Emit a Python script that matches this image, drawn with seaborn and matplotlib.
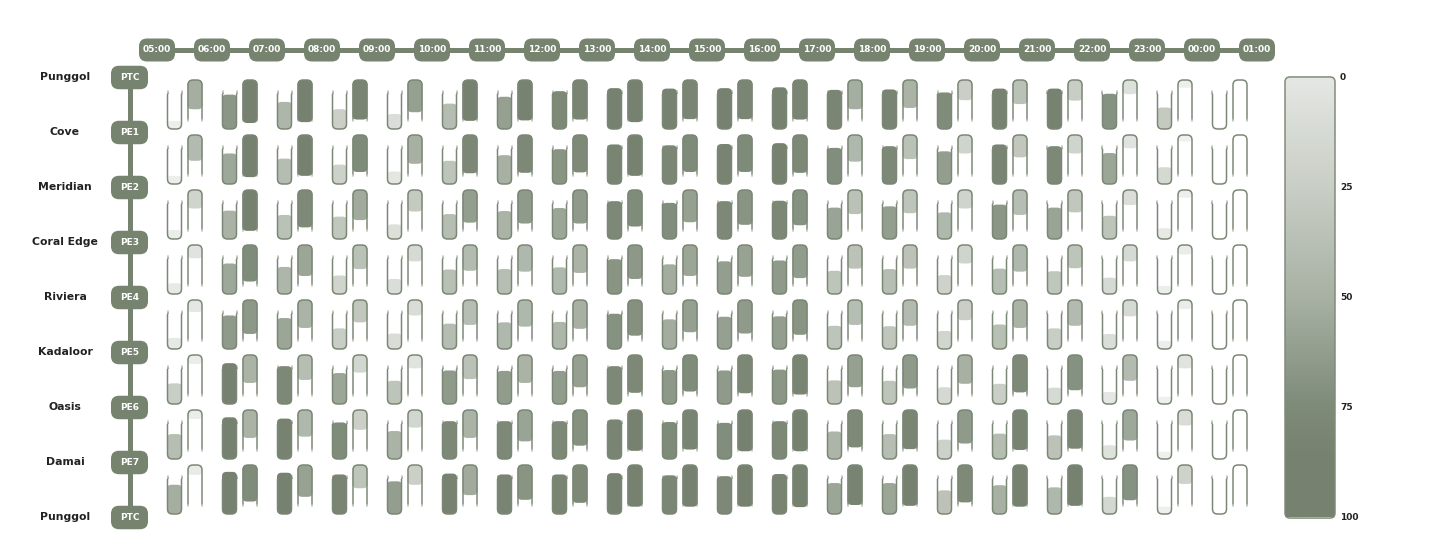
import numpy as np
import matplotlib
matplotlib.use("Agg")
import matplotlib.pyplot as plt
import seaborn as sns
from matplotlib.colors import LinearSegmentedColormap, Normalize, to_rgba
from matplotlib.patches import FancyBboxPatch, PathPatch
from matplotlib.path import Path
from matplotlib.collections import LineCollection

# ---- data ----
hours = ['05:00', '06:00', '07:00', '08:00', '09:00', '10:00', '11:00', '12:00',
         '13:00', '14:00', '15:00', '16:00', '17:00', '18:00', '19:00', '20:00',
         '21:00', '22:00', '23:00', '00:00', '01:00']
station_names = ['Punggol', 'Cove', 'Meridian', 'Coral Edge', 'Riviera',
                 'Kadaloor', 'Oasis', 'Damai', 'Punggol']
station_codes = ['PTC', 'PE1', 'PE2', 'PE3', 'PE4', 'PE5', 'PE6', 'PE7', 'PTC']

# load per segment (row) and hour slot (column), left tube (fills upward)
load_left = [
    [19, 80, 63, 46, 35, 59, 75, 88, 95, 94, 95, 97, 91, 92, 85, 94, 94, 82, 50, 4],
    [19, 71, 59, 45, 29, 54, 67, 81, 92, 90, 93, 95, 84, 88, 76, 92, 88, 72, 39, 4],
    [21, 66, 56, 52, 34, 58, 65, 72, 88, 84, 88, 89, 73, 76, 62, 80, 73, 54, 25, 0],
    [25, 71, 63, 43, 35, 57, 58, 62, 81, 69, 76, 78, 54, 58, 44, 59, 53, 38, 19, 0],
    [26, 78, 72, 48, 36, 59, 62, 63, 82, 69, 75, 76, 54, 53, 42, 57, 48, 35, 19, 0],
    [48, 95, 88, 72, 54, 78, 77, 77, 88, 79, 78, 80, 55, 54, 39, 47, 38, 28, 17, 0],
    [58, 97, 94, 85, 65, 88, 88, 88, 92, 86, 84, 88, 64, 58, 45, 59, 55, 32, 17, 0],
    [68, 98, 96, 92, 76, 94, 92, 92, 95, 90, 88, 93, 72, 72, 55, 67, 62, 40, 17, 0],
]
# right tube (fills downward)
load_right = [
    [68, 100, 98, 92, 75, 95, 94, 92, 98, 91, 91, 92, 68, 65, 47, 56, 48, 33, 18, 0],
    [60, 98, 95, 86, 67, 89, 88, 87, 95, 86, 86, 88, 62, 56, 43, 52, 43, 31, 15, 0],
    [43, 95, 87, 70, 50, 76, 78, 78, 85, 75, 81, 82, 56, 54, 43, 58, 52, 35, 18, 0],
    [31, 85, 72, 56, 38, 60, 62, 65, 79, 72, 74, 77, 55, 55, 43, 62, 54, 38, 22, 0],
    [28, 79, 65, 52, 36, 58, 62, 67, 83, 75, 78, 81, 58, 60, 47, 65, 60, 38, 21, 0],
    [21, 65, 58, 41, 31, 56, 65, 75, 88, 85, 89, 92, 75, 78, 67, 87, 82, 60, 31, 2],
    [21, 65, 62, 46, 41, 65, 73, 83, 95, 92, 96, 96, 87, 91, 78, 93, 90, 71, 36, 2],
    [23, 85, 74, 54, 46, 70, 81, 88, 97, 97, 97, 98, 93, 95, 87, 97, 95, 82, 44, 2],
]
scale_ticks = [0, 25, 50, 75, 100]

# ---- style ----
sns.set_theme(style="white")
plt.rcParams['font.family'] = ['DejaVu Sans']

INK = '#76836f'
OUTLINE = '#7a8774'
PX = 1 / 55.0          # one pixel in data units (55 px per hour / station)
PT = 0.72              # points per pixel at dpi 100

load_cmap = LinearSegmentedColormap.from_list('load', [
    (0.0, '#f4f5f3'), (0.189, '#e4e7e3'), (0.392, '#c9cec6'),
    (0.595, '#a8b1a4'), (0.797, '#7f8b79'), (0.895, '#76826f'), (1.0, '#76826f')])
norm = Normalize(vmin=10, vmax=105, clip=True)

HALF = 7 * PX          # half width of tube (stroke centre)
R = 5 * PX             # corner radius
FADE = 4 * PX
FULL = 43 * PX         # fill length at 100


def draw_tube(ax, xc, c, value, opens_up):
    if opens_up:
        s, y_open, y_closed = 1, c - 15 * PX, c + 24 * PX
    else:
        s, y_open, y_closed = -1, c + 17 * PX, c - 25 * PX

    # fill from the closed end
    L = value / 100 * FULL
    if L > 0.6 * PX:
        y_lo = y_closed - L if opens_up else y_closed
        fill = FancyBboxPatch((xc - 7.5 * PX, y_lo), 15 * PX, L,
                              boxstyle=f"round,pad=0,rounding_size={min(4.5 * PX, L / 2)}",
                              facecolor=load_cmap(norm(value)), edgecolor='none', zorder=2)
        ax.add_patch(fill)

    # solid outline
    xl, xr = xc - HALF, xc + HALF
    y_start = y_open + s * FADE
    yb = y_closed - s * R
    verts = [(xl, y_start), (xl, yb), (xl, y_closed), (xl + R, y_closed),
             (xr - R, y_closed), (xr, y_closed), (xr, yb), (xr, y_start)]
    codes = [Path.MOVETO, Path.LINETO, Path.CURVE3, Path.CURVE3,
             Path.LINETO, Path.CURVE3, Path.CURVE3, Path.LINETO]
    ax.add_patch(PathPatch(Path(verts, codes), facecolor='none', edgecolor=OUTLINE,
                           lw=1.5 * PT, zorder=3, capstyle='butt'))

    # fading open ends
    ys = np.linspace(y_open, y_start, 5)
    segs, cols = [], []
    for x in (xl, xr):
        for j in range(4):
            segs.append([(x, ys[j]), (x, ys[j + 1])])
            cols.append(to_rgba(OUTLINE, 0.35 + 0.6 * j / 3))
    ax.add_collection(LineCollection(segs, colors=cols, linewidths=1.5 * PT,
                                     capstyle='butt', zorder=3))


fig = plt.figure(figsize=(14.3, 5.45), dpi=100)
ax = fig.add_axes([0, 0, 1, 1])
ax.axis('off')

n_hours = len(hours)
n_stations = len(station_names)

# hour header line + badges
ax.plot([0, n_hours - 1], [-0.5, -0.5], color=INK, lw=5 * PT, solid_capstyle='butt', zorder=1)
for k, h in enumerate(hours):
    ax.add_patch(FancyBboxPatch((k - 18 * PX, -0.5 - 11.5 * PX), 36 * PX, 23 * PX,
                                boxstyle=f"round,pad=0,rounding_size={8 * PX}",
                                facecolor=INK, edgecolor='none', zorder=2))
    ax.text(k, -0.5, h, color='white', fontsize=6.5, fontweight='bold',
            ha='center', va='center', zorder=3)

# station line + badges + names
ax.plot([-0.5, -0.5], [0, n_stations - 1], color=INK, lw=5 * PT, solid_capstyle='butt', zorder=1)
for i, (name, code) in enumerate(zip(station_names, station_codes)):
    ax.add_patch(FancyBboxPatch((-0.5 - 18.5 * PX, i - 11.75 * PX), 37 * PX, 23.5 * PX,
                                boxstyle=f"round,pad=0,rounding_size={8 * PX}",
                                facecolor=INK, edgecolor='none', zorder=2))
    ax.text(-0.5, i, code, color='white', fontsize=6.5, fontweight='bold',
            ha='center', va='center', zorder=3)
    ax.text(-1.673, i, name, color='#222222', fontsize=7.8, fontweight='bold',
            ha='center', va='center')

# tubes
for i in range(n_stations - 1):
    c = i + 0.5
    for k in range(n_hours - 1):
        xk = k + 0.5
        draw_tube(ax, xk - 10 * PX, c, load_left[i][k], opens_up=True)
        draw_tube(ax, xk + 10.5 * PX, c, load_right[i][k], opens_up=False)

# colour scale
cx0, cx1 = (1285 - 157) * PX, (1335 - 157) * PX
cy1 = n_stations - 1
frame = FancyBboxPatch((cx0, -0.01), cx1 - cx0, cy1 + 0.02,
                       boxstyle=f"round,pad=0,rounding_size={5 * PX}",
                       facecolor='none', edgecolor='#7f8b79', lw=1.5 * PT, zorder=5)
ax.add_patch(frame)
grad = np.linspace(28, 105, 256)[:, None]
im = ax.imshow(grad, cmap=load_cmap, norm=norm, extent=(cx0, cx1, cy1, 0),
               aspect='auto', interpolation='bilinear', zorder=4)
im.set_clip_path(frame)
for t in scale_ticks:
    ax.text(cx1 + 5 * PX, t / 100 * cy1, str(t), color='#222222', fontsize=6.5,
            fontweight='bold', ha='left', va='center')

ax.set_xlim(-157 * PX, (1430 - 157) * PX)
ax.set_ylim((545 - 77.5) * PX, -77.5 * PX)

fig.savefig('out.png', dpi=100)
